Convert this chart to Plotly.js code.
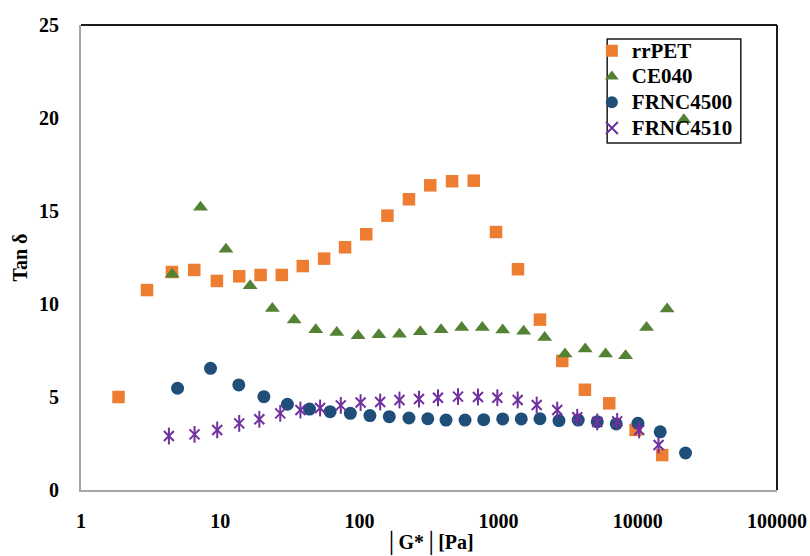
<!DOCTYPE html>
<html>
<head>
<meta charset="utf-8">
<script src="https://cdn.plot.ly/plotly-3.0.1.min.js"></script>
<style>
  html, body { margin: 0; padding: 0; background: #ffffff; }
  #chart { width: 810px; height: 556px; }
</style>
</head>
<body>
<div id="chart"></div>
<script>
// |G*| (Pa) and tan delta for each material
const rrPET_G   = [1.86, 2.98, 4.50, 6.51, 9.47, 13.7, 19.5, 27.7, 39.2, 55.8, 78.9, 112, 159, 227, 323, 463, 663, 958, 1378, 1982, 2866, 4170, 6235, 9640, 14970];
const rrPET_tan = [5.0, 10.75, 11.72, 11.83, 11.24, 11.49, 11.56, 11.56, 12.04, 12.44, 13.05, 13.75, 14.75, 15.63, 16.38, 16.6, 16.63, 13.87, 11.87, 9.16, 6.94, 5.39, 4.66, 3.23, 1.88];

const CE040_G   = [4.52, 7.22, 11.0, 16.4, 23.7, 34.0, 48.6, 68.8, 97.9, 138, 194, 274, 386, 543, 764, 1070, 1514, 2143, 2999, 4190, 5870, 8170, 11560, 16250, 21430];
const CE040_tan = [11.6, 15.2, 12.95, 10.98, 9.76, 9.14, 8.62, 8.47, 8.29, 8.35, 8.38, 8.51, 8.62, 8.74, 8.74, 8.6, 8.53, 8.2, 7.31, 7.58, 7.31, 7.22, 8.74, 9.73, 19.9];

const FRNC4500_G   = [4.94, 8.52, 13.6, 20.6, 30.4, 43.8, 61.6, 86.1, 119, 164, 227, 310, 419, 574, 782, 1070, 1455, 1982, 2715, 3733, 5113, 7000, 10020, 14490, 22030];
const FRNC4500_tan = [5.47, 6.54, 5.65, 5.02, 4.61, 4.35, 4.21, 4.12, 4.0, 3.94, 3.87, 3.83, 3.76, 3.76, 3.78, 3.82, 3.82, 3.83, 3.73, 3.76, 3.67, 3.55, 3.59, 3.13, 1.99];

const FRNC4510_G   = [4.28, 6.54, 9.52, 13.7, 19.1, 27.0, 37.7, 52.2, 73.5, 102, 141, 194, 268, 367, 511, 711, 979, 1371, 1878, 2638, 3673, 5113, 7112, 10230, 14100];
const FRNC4510_tan = [2.90, 2.99, 3.23, 3.58, 3.80, 4.12, 4.30, 4.41, 4.55, 4.70, 4.73, 4.84, 4.89, 4.96, 5.02, 5.0, 4.96, 4.84, 4.57, 4.3, 3.91, 3.66, 3.69, 3.23, 2.42];

const seriesNames = ['rrPET', 'CE040', 'FRNC4500', 'FRNC4510'];
const xTickVals = [1, 10, 100, 1000, 10000, 100000];
const xTickText = ['1', '10', '100', '1000', '10000', '100000'];
const yTickVals = [0, 5, 10, 15, 20, 25];

const serif = 'Liberation Serif, Times New Roman, serif';
const PURPLE = '#7030A0';

// legend rows are spaced by the legend font; the label itself is drawn larger
const legendLabel = s => '<span style="font-size:21px">' + s + '</span>';

const traces = [
  {
    name: legendLabel(seriesNames[0]), x: rrPET_G, y: rrPET_tan, type: 'scatter', mode: 'markers',
    marker: { symbol: 'square', size: 12.5, color: '#ED7D31' }
  },
  {
    name: legendLabel(seriesNames[1]), x: CE040_G, y: CE040_tan, type: 'scatter', mode: 'markers',
    marker: { symbol: 'triangle-up', size: 13, color: '#548235' }
  },
  {
    name: legendLabel(seriesNames[2]), x: FRNC4500_G, y: FRNC4500_tan, type: 'scatter', mode: 'markers',
    marker: { symbol: 'circle', size: 13, color: '#1F4E79' }
  },
  {
    name: legendLabel(seriesNames[3]), x: FRNC4510_G, y: FRNC4510_tan, type: 'scatter', mode: 'markers',
    legendgroup: 'f4510',
    marker: { symbol: 'x-thin-open', size: 10, color: PURPLE, line: { color: PURPLE, width: 2 } }
  },
  {
    // vertical stroke that turns the x into a star marker
    name: seriesNames[3], x: FRNC4510_G, y: FRNC4510_tan, type: 'scatter', mode: 'markers',
    legendgroup: 'f4510', showlegend: false, hoverinfo: 'skip',
    marker: { symbol: 'line-ns-open', size: 12, color: PURPLE, line: { color: PURPLE, width: 2 } }
  }
];

const layout = {
  width: 810, height: 556,
  margin: { l: 81, r: 33, t: 25, b: 66 },
  paper_bgcolor: '#ffffff', plot_bgcolor: '#ffffff',
  font: { family: serif, size: 20, color: '#000000', weight: 'bold' },
  showlegend: true,
  legend: {
    x: 0.734, y: 0.983, xanchor: 'left', yanchor: 'top',
    bgcolor: 'rgba(0,0,0,0)', borderwidth: 0,
    font: { family: serif, size: 17.5, color: '#000000', weight: 'bold' },
    itemsizing: 'constant', tracegroupgap: 0
  },
  xaxis: {
    type: 'log', range: [0, 5],
    tickvals: xTickVals, ticktext: xTickText,
    ticks: '', showgrid: false, zeroline: false,
    showline: true, linecolor: '#A6A6A6', linewidth: 2,
    ticklabelstandoff: 12,
    tickfont: { family: serif, size: 20, weight: 'bold' },
    title: { text: '│G*│[Pa]', standoff: 4, font: { family: serif, size: 20, weight: 'bold' } }
  },
  yaxis: {
    range: [0, 25], tickvals: yTickVals,
    ticks: '', showgrid: false, zeroline: false,
    showline: true, linecolor: '#A6A6A6', linewidth: 2,
    ticklabelstandoff: 16,
    tickfont: { family: serif, size: 20, weight: 'bold' },
    title: { text: 'Tan δ', standoff: 6, font: { family: serif, size: 20, weight: 'bold' } }
  },
  shapes: [
    // top and right frame edges
    { type: 'line', xref: 'paper', yref: 'paper', x0: 0, x1: 1, y0: 1, y1: 1, line: { color: '#1a1a1a', width: 2 } },
    { type: 'line', xref: 'paper', yref: 'paper', x0: 1, x1: 1, y0: 0, y1: 1, line: { color: '#1a1a1a', width: 2 } },
    // legend frame
    { type: 'rect', xref: 'paper', yref: 'paper', x0: 0.756, x1: 0.948, y0: 0.746, y1: 0.970, line: { color: '#1a1a1a', width: 1.5 }, fillcolor: 'rgba(0,0,0,0)' }
  ]
};

Plotly.newPlot('chart', traces, layout, { displayModeBar: false, staticPlot: true });
</script>
</body>
</html>
